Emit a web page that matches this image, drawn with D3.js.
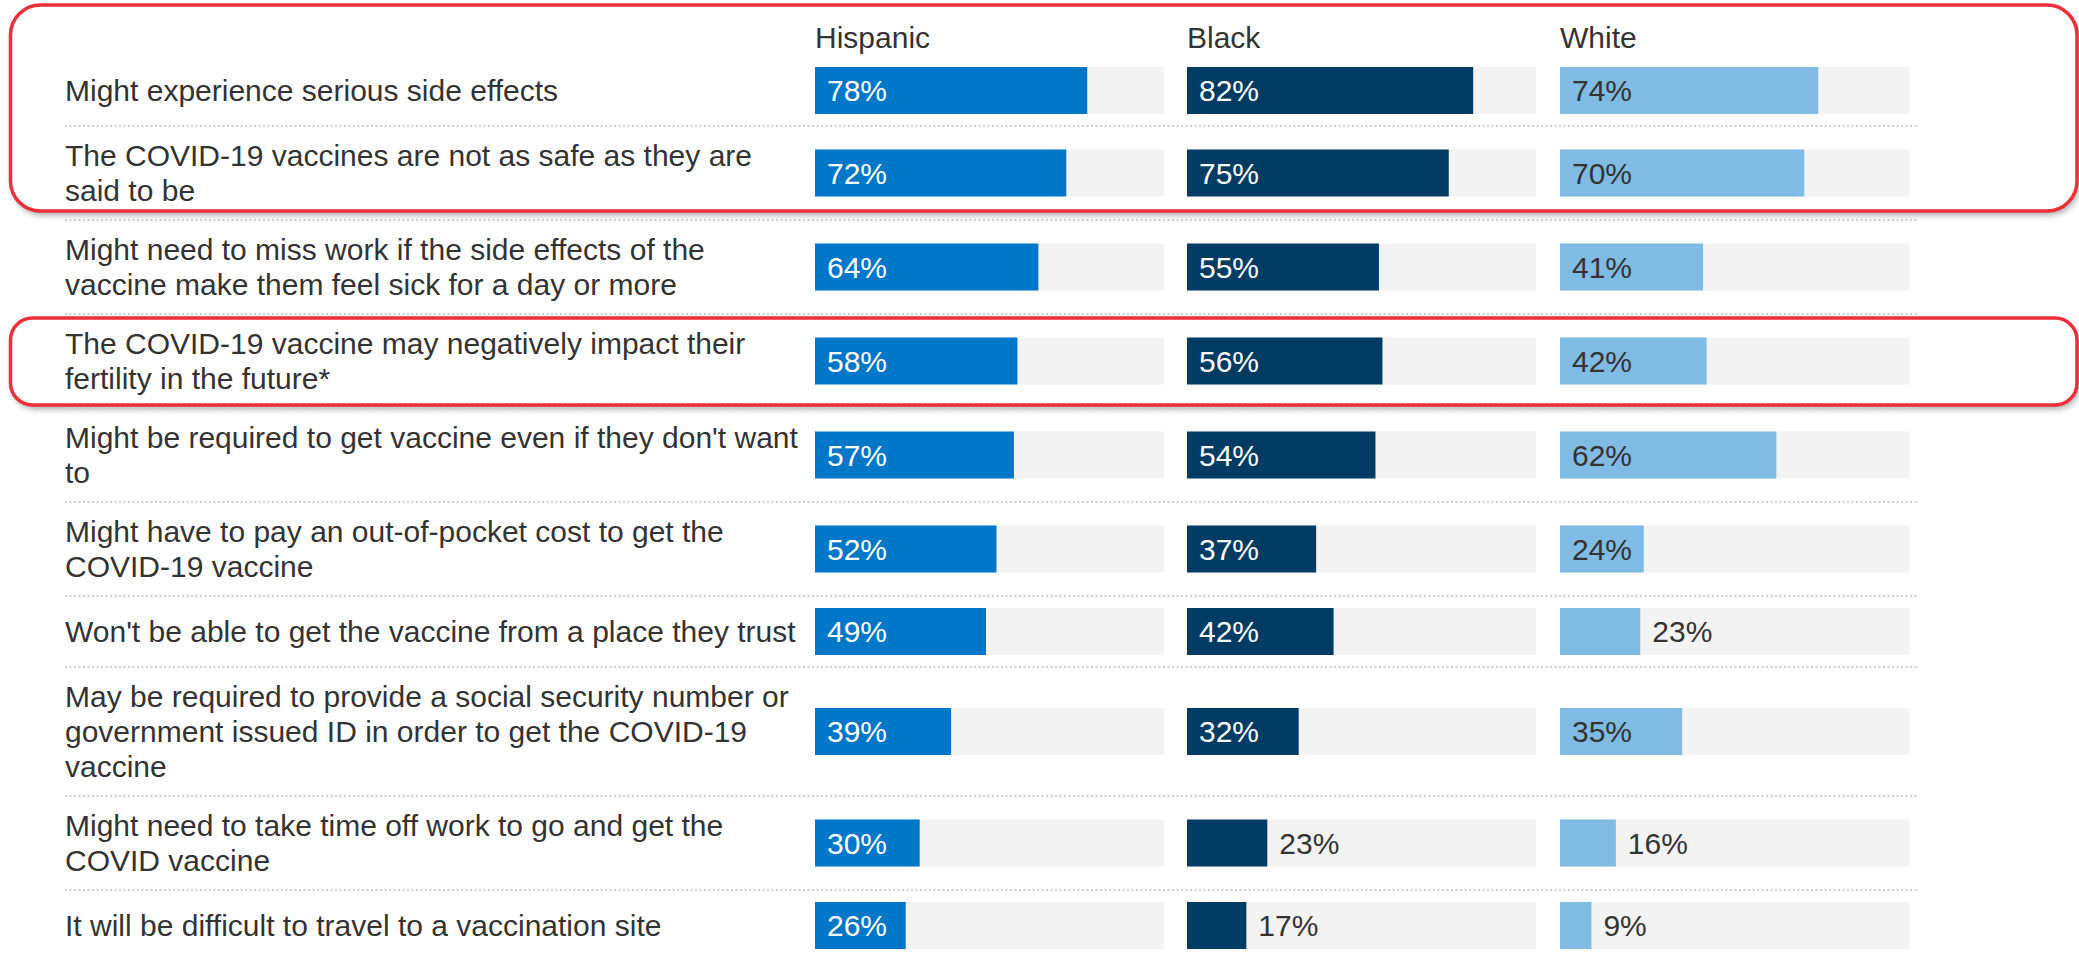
<!DOCTYPE html>
<html>
<head>
<meta charset="utf-8">
<script src="https://cdn.jsdelivr.net/npm/d3@7/dist/d3.min.js"></script>
<style>
  html, body { margin: 0; padding: 0; background: #fff; }
  svg { display: block; }
  text { font-family: "Liberation Sans", Arial, Helvetica, sans-serif; }
</style>
</head>
<body>
<svg id="chart" width="2079" height="955"></svg>
<script>
// ---- data ----
const categories = [
  "Might experience serious side effects",
  "The COVID-19 vaccines are not as safe as they are\nsaid to be",
  "Might need to miss work if the side effects of the\nvaccine make them feel sick for a day or more",
  "The COVID-19 vaccine may negatively impact their\nfertility in the future*",
  "Might be required to get vaccine even if they don't want\nto",
  "Might have to pay an out-of-pocket cost to get the\nCOVID-19 vaccine",
  "Won't be able to get the vaccine from a place they trust",
  "May be required to provide a social security number or\ngovernment issued ID in order to get the COVID-19\nvaccine",
  "Might need to take time off work to go and get the\nCOVID vaccine",
  "It will be difficult to travel to a vaccination site"
];
const groups = ["Hispanic", "Black", "White"];
const hispanic = [78, 72, 64, 58, 57, 52, 49, 39, 30, 26];
const black    = [82, 75, 55, 56, 54, 37, 42, 32, 23, 17];
const white    = [74, 70, 41, 42, 62, 24, 23, 35, 16, 9];
const seriesValues = [hispanic, black, white];
const groupColors = ["#0077C8", "#003B64", "#80BBE3"];
const labelColors = ["#ffffff", "#ffffff", "#333333"];

// ---- layout ----
const svg = d3.select("#chart");
const FONT = 30;
const LINE_H = 35;
const BAR_H = 47;
const ROW_PAD = 24;
const textX = 65;
const firstRowTop = 55;
const panelStarts = [815, 1187, 1560];
const panelWidth = 349;
const lineEnd = 1918;

// shadow filter
const defs = svg.append("defs");
const f = defs.append("filter").attr("id", "shadow")
  .attr("x", "-5%").attr("y", "-20%").attr("width", "110%").attr("height", "140%");
f.append("feDropShadow").attr("dx", 2).attr("dy", 4).attr("stdDeviation", 3)
  .attr("flood-color", "#000").attr("flood-opacity", 0.35);

const wrapped = categories.map(s => s.split("\n"));

// row positions
const rows = [];
let y = firstRowTop;
wrapped.forEach((lines, i) => {
  const h = Math.max(BAR_H, lines.length * LINE_H) + ROW_PAD;
  rows.push({ i, lines, top: y, h, mid: y + h / 2 });
  y += h;
});

const x = d3.scaleLinear().domain([0, 100]).range([0, panelWidth]);

// highlight boxes (behind)
const boxG = svg.append("g");
const boxSpecs = [
  { top: 5, bottom: rows[1].top + rows[1].h - 9, r: 30 },
  { top: rows[3].top + 4, bottom: rows[3].top + rows[3].h - 3, r: 22 }
];
boxSpecs.forEach(b => {
  boxG.append("rect")
    .attr("x", 10.5).attr("y", b.top)
    .attr("width", 2077 - 10.5).attr("height", b.bottom - b.top)
    .attr("rx", b.r).attr("ry", b.r)
    .attr("fill", "#fff")
    .attr("filter", "url(#shadow)");
});

// dotted separators
const sepG = svg.append("g");
rows.forEach((r, i) => {
  if (i === 0) return;
  sepG.append("line")
    .attr("x1", textX).attr("x2", lineEnd)
    .attr("y1", r.top).attr("y2", r.top)
    .attr("stroke", "#cfcfcf").attr("stroke-width", 2)
    .attr("stroke-dasharray", "2,2.5");
});

// headers
groups.forEach((g, gi) => {
  svg.append("text")
    .attr("x", panelStarts[gi]).attr("y", 48)
    .attr("font-size", FONT).attr("fill", "#333")
    .text(g);
});

// category labels
rows.forEach(r => {
  const n = r.lines.length;
  const t = svg.append("text").attr("font-size", FONT).attr("fill", "#333");
  r.lines.forEach((ln, k) => {
    t.append("tspan")
      .attr("x", textX)
      .attr("y", r.mid + (k - (n - 1) / 2) * LINE_H)
      .attr("dy", "0.36em")
      .text(ln);
  });
});

// bars
groups.forEach((g, gi) => {
  const px = panelStarts[gi];
  const vals = seriesValues[gi];
  const G = svg.append("g").attr("transform", `translate(${px},0)`);
  G.selectAll("rect.bg").data(rows).join("rect")
    .attr("class", "bg")
    .attr("x", 0).attr("y", r => r.mid - BAR_H / 2)
    .attr("width", x(100)).attr("height", BAR_H)
    .attr("fill", "#F3F3F3");
  G.selectAll("rect.val").data(rows).join("rect")
    .attr("class", "val")
    .attr("x", 0).attr("y", r => r.mid - BAR_H / 2)
    .attr("width", r => x(vals[r.i])).attr("height", BAR_H)
    .attr("fill", groupColors[gi]);
  G.selectAll("text.lbl").data(rows).join("text")
    .attr("class", "lbl")
    .attr("font-size", FONT)
    .attr("x", r => vals[r.i] >= 24 ? 12 : x(vals[r.i]) + 12)
    .attr("y", r => r.mid)
    .attr("dy", "0.36em")
    .attr("fill", r => vals[r.i] >= 24 ? labelColors[gi] : "#333")
    .text(r => vals[r.i] + "%");
});

// highlight box strokes (on top)
const strokeG = svg.append("g");
boxSpecs.forEach(b => {
  strokeG.append("rect")
    .attr("x", 10.5).attr("y", b.top)
    .attr("width", 2077 - 10.5).attr("height", b.bottom - b.top)
    .attr("rx", b.r).attr("ry", b.r)
    .attr("fill", "none")
    .attr("stroke", "#EC2F3B").attr("stroke-width", 3.5);
});
</script>
</body>
</html>
